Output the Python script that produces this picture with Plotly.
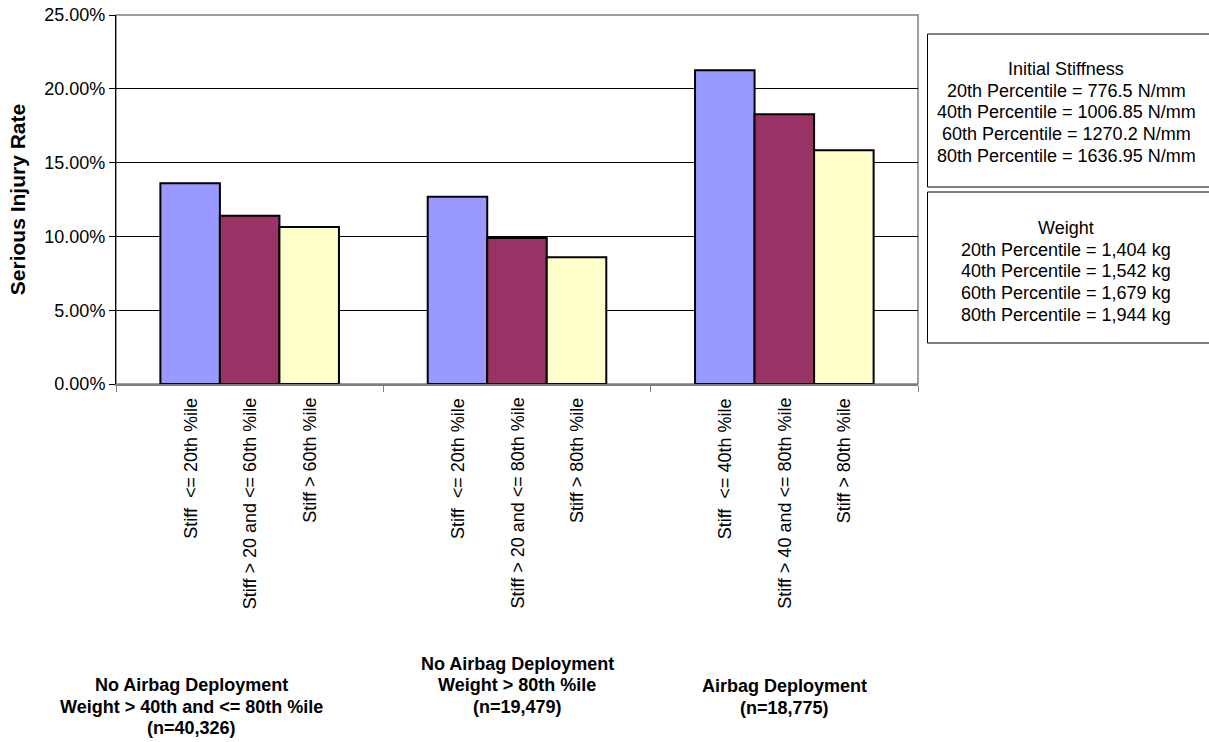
import plotly.graph_objects as go

# Crash groups (x categories) and their label lines
groups = ["g1", "g2", "g3"]
group_lines = [
    ["No Airbag Deployment", "Weight > 40th and <= 80th %ile", "(n=40,326)"],
    ["No Airbag Deployment", "Weight > 80th %ile", "(n=19,479)"],
    ["Airbag Deployment", "(n=18,775)"],
]

# Serious injury rate per stiffness band within each group
low_stiff = [0.1360, 0.1269, 0.2125]
mid_stiff = [0.1140, 0.0989, 0.1827]
high_stiff = [0.1064, 0.0858, 0.1583]

# Band descriptions drawn under each bar
low_labels = ["Stiff  <= 20th %ile", "Stiff  <= 20th %ile", "Stiff  <= 40th %ile"]
mid_labels = ["Stiff > 20 and <= 60th %ile", "Stiff > 20 and <= 80th %ile",
              "Stiff > 40 and <= 80th %ile"]
high_labels = ["Stiff > 60th %ile", "Stiff > 80th %ile", "Stiff > 80th %ile"]

y_ticks = [0, 0.05, 0.10, 0.15, 0.20, 0.25]

stiffness_note = ["Initial Stiffness", "20th Percentile = 776.5 N/mm",
                  "40th Percentile = 1006.85 N/mm", "60th Percentile = 1270.2 N/mm",
                  "80th Percentile = 1636.95 N/mm"]
weight_note = ["Weight", "20th Percentile = 1,404 kg", "40th Percentile = 1,542 kg",
               "60th Percentile = 1,679 kg", "80th Percentile = 1,944 kg"]

FONT = "Liberation Sans, Arial, sans-serif"
BARGAP = 0.332
colors = ["#9999FF", "#993366", "#FFFFCC"]
series = [low_stiff, mid_stiff, high_stiff]
series_labels = [low_labels, mid_labels, high_labels]

# Page geometry (pixels) of the plotting area
W, H = 1209, 742
L, R, T, B = 116, 918, 15, 384


def px_x(p):
    return (p - L) / (R - L)


def px_y(p):
    return (B - p) / (B - T)


fig = go.Figure()
for vals, col in zip(series, colors):
    fig.add_trace(go.Bar(
        x=groups, y=vals,
        marker=dict(color=col, line=dict(color="black", width=2)),
        showlegend=False,
    ))

# Rotated band labels, one under each bar
bar_w = (1 - BARGAP) / 3
for k, labels in enumerate(series_labels):
    for i, txt in enumerate(labels):
        fig.add_annotation(
            x=i + (k - 1) * bar_w, y=0, xref="x", yref="y",
            text=txt, textangle=-90, showarrow=False,
            xanchor="center", yanchor="top", yshift=-12,
            font=dict(family=FONT, size=18, color="black"),
        )

# Group labels below the band labels
LINE = 21.5
group_first_line = [685, 664, 686]
group_dx = [-58, 0, 0]
for i, (lines, y0, dx) in enumerate(zip(group_lines, group_first_line, group_dx)):
    for j, txt in enumerate(lines):
        fig.add_annotation(
            x=i, y=px_y(y0 + j * LINE), xref="x", yref="paper",
            text="<b>" + txt + "</b>", showarrow=False,
            xanchor="center", yanchor="middle", xshift=dx,
            font=dict(family=FONT, size=18, color="black"),
        )

# Percentile reference boxes
boxes = [(stiffness_note, 34, 187, 69), (weight_note, 192, 343, 228)]
for lines, top, bottom, first in boxes:
    fig.add_shape(type="rect", xref="paper", yref="paper",
                  x0=px_x(927.5), x1=px_x(W + 5), y0=px_y(bottom), y1=px_y(top),
                  line=dict(color="black", width=1), fillcolor="white", layer="above")
    for j, txt in enumerate(lines):
        fig.add_annotation(
            x=px_x(1066), y=px_y(first + j * 21.7), xref="paper", yref="paper",
            text=txt, showarrow=False, xanchor="center", yanchor="middle",
            font=dict(family=FONT, size=18, color="black"),
        )

# Plot-area frame
fig.add_shape(type="rect", xref="paper", yref="paper", x0=0, y0=0, x1=1, y1=1,
              line=dict(color="#808080", width=1.5), layer="below")

fig.update_layout(
    width=W, height=H,
    margin=dict(l=L, r=W - R, t=T, b=H - B, autoexpand=False),
    paper_bgcolor="white", plot_bgcolor="white",
    barmode="group", bargap=BARGAP, bargroupgap=0,
    font=dict(family=FONT, size=18, color="black"),
)
fig.update_xaxes(
    type="category", range=[-0.5, 2.5], showticklabels=False, automargin=False,
    ticks="outside", tickson="boundaries", ticklen=6, tickcolor="#808080",
    showline=True, linecolor="#808080", linewidth=1.5, showgrid=False,
)
fig.update_yaxes(
    range=[0, 0.25], tickvals=y_ticks, tickformat=".2%", automargin=False,
    ticks="outside", ticklen=6, tickcolor="black",
    showline=True, linecolor="black", linewidth=1,
    showgrid=True, gridcolor="black", gridwidth=1, zeroline=False,
    tickfont=dict(family=FONT, size=18, color="black"),
    title=dict(text="<b>Serious Injury Rate</b>", standoff=12,
               font=dict(family=FONT, size=21, color="black")),
)

fig.write_html("out.html")
